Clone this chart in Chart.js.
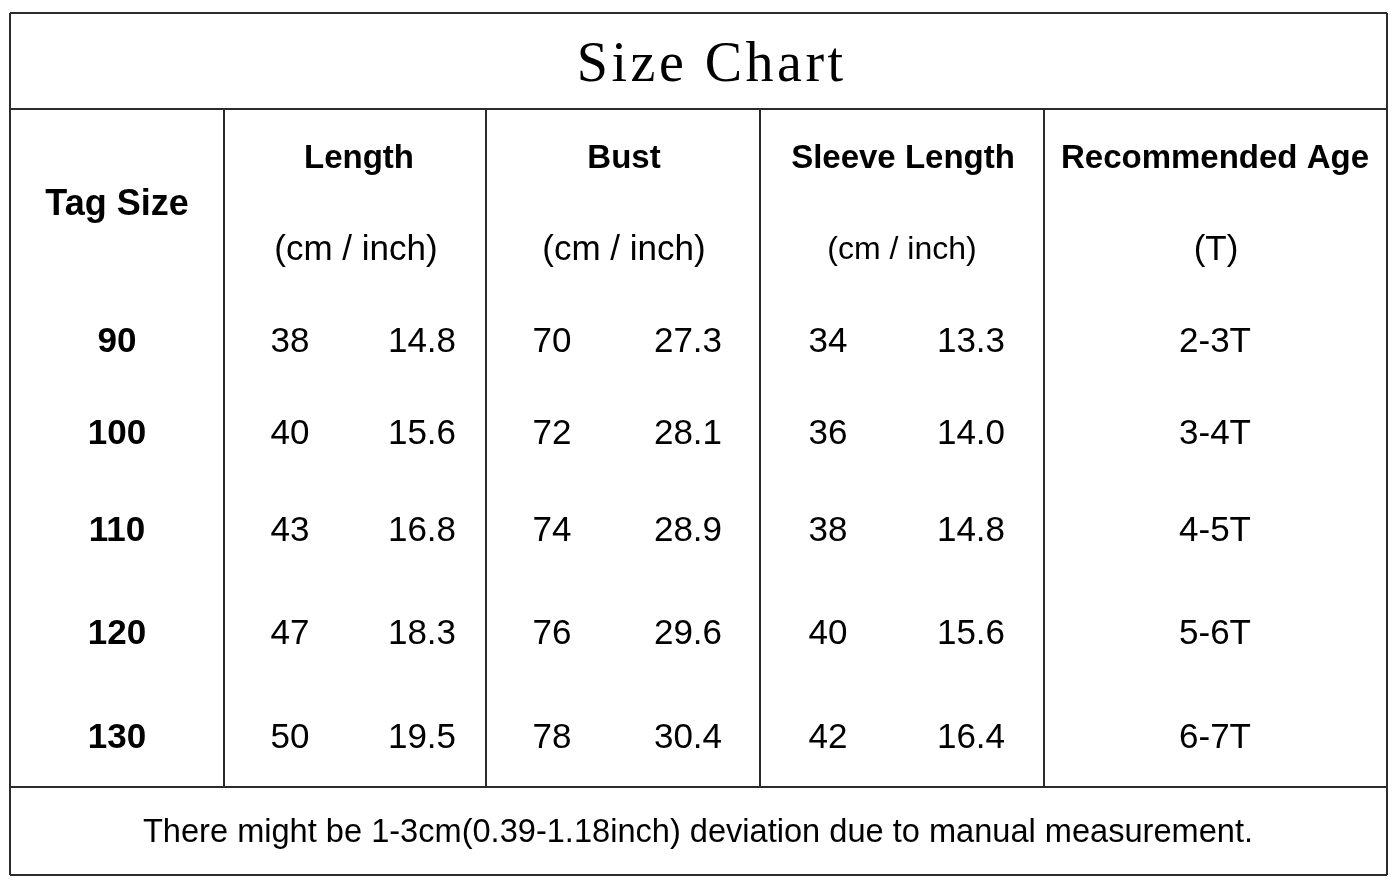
<!DOCTYPE html>
<html>
<head>
<meta charset="utf-8">
<title>Size Chart</title>
<script src="https://cdn.jsdelivr.net/npm/chart.js@4/dist/chart.umd.min.js"></script>
<style>
  html, body { margin: 0; padding: 0; background: #fff; }
  #wrap { width: 1400px; height: 892px; position: relative; }
</style>
</head>
<body>
<div id="wrap"><canvas id="chart"></canvas></div>
<script>
// table data
var title = "Size Chart";
var headers = ["Tag Size", "Length", "Bust", "Sleeve Length", "Recommended Age"];
var units = ["", "(cm / inch)", "(cm / inch)", "(cm / inch)", "(T)"];
var tagSizes = ["90", "100", "110", "120", "130"];
var lengthCm = [38, 40, 43, 47, 50];
var lengthInch = [14.8, 15.6, 16.8, 18.3, 19.5];
var bustCm = [70, 72, 74, 76, 78];
var bustInch = [27.3, 28.1, 28.9, 29.6, 30.4];
var sleeveCm = [34, 36, 38, 40, 42];
var sleeveInch = [13.3, 14.0, 14.8, 15.6, 16.4];
var ages = ["2-3T", "3-4T", "4-5T", "5-6T", "6-7T"];
var note = "There might be 1-3cm(0.39-1.18inch) deviation due to manual measurement.";

// layout (in scale units)
var colEdges = [10, 224, 486, 760, 1044, 1387];
var rowEdges = [13, 109, 787, 875];
var headerY = 159, unitY = 250, tagHeadY = 205, titleY = 66, noteY = 833;
var rowY = [342, 434, 531, 634, 738];
var headerX = [117, 359, 624, 903, 1215];
var unitX = [0, 356, 624, 902, 1216];
var cmX = [290, 552, 828];
var inchX = [422, 688, 971];
var unitSize = [0, 35, 35, 32, 35];

var SANS = "'Liberation Sans', Arial, sans-serif";
var SERIF = "'Liberation Serif', 'Times New Roman', serif";

// build the cells
var cells = [];
function addCell(x, y, text, font, spacing) {
  cells.push({ x: x, y: y, text: text, font: font, spacing: spacing || 0 });
}

addCell(710, titleY, title, "56px " + SERIF, 3.5);
addCell(headerX[0], tagHeadY, headers[0], "bold 36px " + SANS);
for (var c = 1; c < headers.length; c++) {
  addCell(headerX[c], headerY, headers[c], "bold 33px " + SANS);
  addCell(unitX[c], unitY, units[c], unitSize[c] + "px " + SANS);
}
var cmCols = [lengthCm, bustCm, sleeveCm];
var inchCols = [lengthInch, bustInch, sleeveInch];
for (var r = 0; r < tagSizes.length; r++) {
  addCell(headerX[0], rowY[r], tagSizes[r], "bold 35px " + SANS);
  for (var k = 0; k < 3; k++) {
    addCell(cmX[k], rowY[r], String(cmCols[k][r]), "35px " + SANS);
    addCell(inchX[k], rowY[r], inchCols[k][r].toFixed(1), "35px " + SANS);
  }
  addCell(headerX[4], rowY[r], ages[r], "35px " + SANS);
}
addCell(698, noteY, note, "32.6px " + SANS);

// grid lines drawn through the scales
var tableGrid = {
  id: "tableGrid",
  beforeDatasetsDraw: function(chart) {
    var ctx = chart.ctx, xs = chart.scales.x, ys = chart.scales.y;
    var left = xs.getPixelForValue(colEdges[0]);
    var right = xs.getPixelForValue(colEdges[colEdges.length - 1]);
    ctx.save();
    ctx.strokeStyle = "#2b2b2b";
    ctx.lineWidth = 2;
    ctx.beginPath();
    rowEdges.forEach(function(v) {
      var y = ys.getPixelForValue(v);
      ctx.moveTo(left, y);
      ctx.lineTo(right, y);
    });
    var top = ys.getPixelForValue(rowEdges[0]);
    var bottom = ys.getPixelForValue(rowEdges[rowEdges.length - 1]);
    ctx.moveTo(left, top); ctx.lineTo(left, bottom);
    ctx.moveTo(right, top); ctx.lineTo(right, bottom);
    var innerTop = ys.getPixelForValue(rowEdges[1]);
    var innerBottom = ys.getPixelForValue(rowEdges[2]);
    for (var i = 1; i < colEdges.length - 1; i++) {
      var x = xs.getPixelForValue(colEdges[i]);
      ctx.moveTo(x, innerTop);
      ctx.lineTo(x, innerBottom);
    }
    ctx.stroke();
    ctx.restore();
  }
};

// text written at each point element
var cellText = {
  id: "cellText",
  afterDatasetsDraw: function(chart) {
    var ctx = chart.ctx;
    var meta = chart.getDatasetMeta(0);
    ctx.save();
    ctx.fillStyle = "#000";
    ctx.textAlign = "center";
    ctx.textBaseline = "middle";
    meta.data.forEach(function(pt, i) {
      var cell = cells[i];
      ctx.font = cell.font;
      ctx.letterSpacing = cell.spacing + "px";
      ctx.fillText(cell.text, pt.x + cell.spacing / 2, pt.y);
    });
    ctx.restore();
  }
};

var canvas = document.getElementById("chart").getContext("2d");
window.table = new Chart(canvas, {
  type: "scatter",
  data: {
    datasets: [{
      data: cells.map(function(c) { return { x: c.x, y: c.y }; }),
      pointRadius: 0,
      pointHoverRadius: 0
    }]
  },
  options: {
    responsive: true,
    maintainAspectRatio: false,
    animation: false,
    devicePixelRatio: 1,
    layout: { padding: 0 },
    events: [],
    plugins: { legend: { display: false }, tooltip: { enabled: false } },
    scales: {
      x: { type: "linear", min: 0, max: 1400, display: false },
      y: { type: "linear", min: 0, max: 892, reverse: true, display: false }
    }
  },
  plugins: [tableGrid, cellText]
});
</script>
</body>
</html>
